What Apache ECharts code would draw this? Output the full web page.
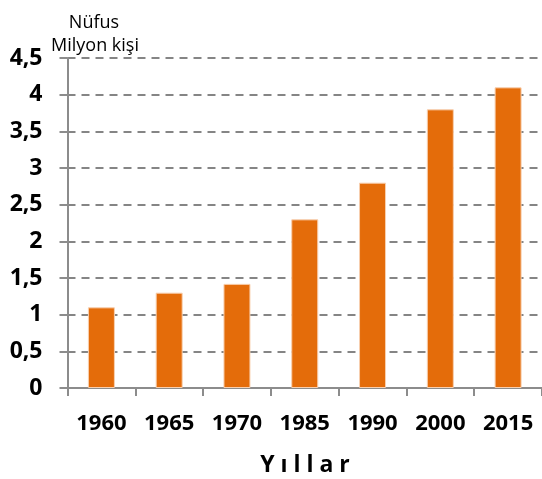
<!DOCTYPE html>
<html>
<head>
<meta charset="utf-8">
<style>html,body{margin:0;padding:0;background:#fff}#c{width:542px;height:479px}</style>
<script src="https://cdn.jsdelivr.net/npm/echarts@6/dist/echarts.min.js"></script>
</head>
<body>
<div id="c"></div>
<script>
const categories = ['1960', '1965', '1970', '1985', '1990', '2000', '2015'];
const population = [1.1, 1.3, 1.42, 2.3, 2.8, 3.8, 4.1];
const yTicks = [0, 0.5, 1, 1.5, 2, 2.5, 3, 3.5, 4, 4.5];

const FONT = '"Open Sans", sans-serif';
const chart = echarts.init(document.getElementById('c'), null, {renderer: 'canvas'});
chart.setOption({
  animation: false,
  grid: {left: 67.5, right: 0, top: 58, bottom: 91, containLabel: false},
  xAxis: {
    type: 'category',
    data: categories,
    axisLine: {lineStyle: {color: '#8c8c8c', width: 2}},
    axisTick: {show: true, length: 8, lineStyle: {color: '#8c8c8c', width: 2}},
    axisLabel: {interval: 0, hideOverlap: false, color: '#000', fontFamily: FONT, fontWeight: 'bold', fontSize: 22, margin: 25}
  },
  yAxis: {
    type: 'value',
    min: yTicks[0],
    max: yTicks[yTicks.length - 1],
    interval: 0.5,
    axisLine: {show: true, lineStyle: {color: '#8c8c8c', width: 2}},
    axisTick: {show: true, length: 8, lineStyle: {color: '#8c8c8c', width: 2}},
    axisLabel: {
      color: '#000', fontFamily: FONT, fontWeight: 'bold', fontSize: 23, margin: 25,
      formatter: v => String(v).replace('.', ',')
    },
    splitLine: {show: true, lineStyle: {color: '#858585', width: 2, type: [8, 6]}}
  },
  series: [{
    type: 'bar',
    data: population,
    barWidth: 27,
    itemStyle: {color: '#E46C0A', borderColor: '#F8D0B0', borderWidth: 1}
  }],
  graphic: [
    {type: 'text', x: 94, y: 23, style: {text: 'Nüfus', font: '18px ' + FONT, fill: '#000', align: 'center', verticalAlign: 'middle'}},
    {type: 'text', x: 95, y: 46, style: {text: 'Milyon kişi', font: '18px ' + FONT, fill: '#000', align: 'center', verticalAlign: 'middle'}},
    {type: 'text', x: 305, y: 465, style: {text: 'Y ı l l a r', font: 'bold 23px ' + FONT, fill: '#000', align: 'center', verticalAlign: 'middle'}}
  ]
});
</script>
</body>
</html>
